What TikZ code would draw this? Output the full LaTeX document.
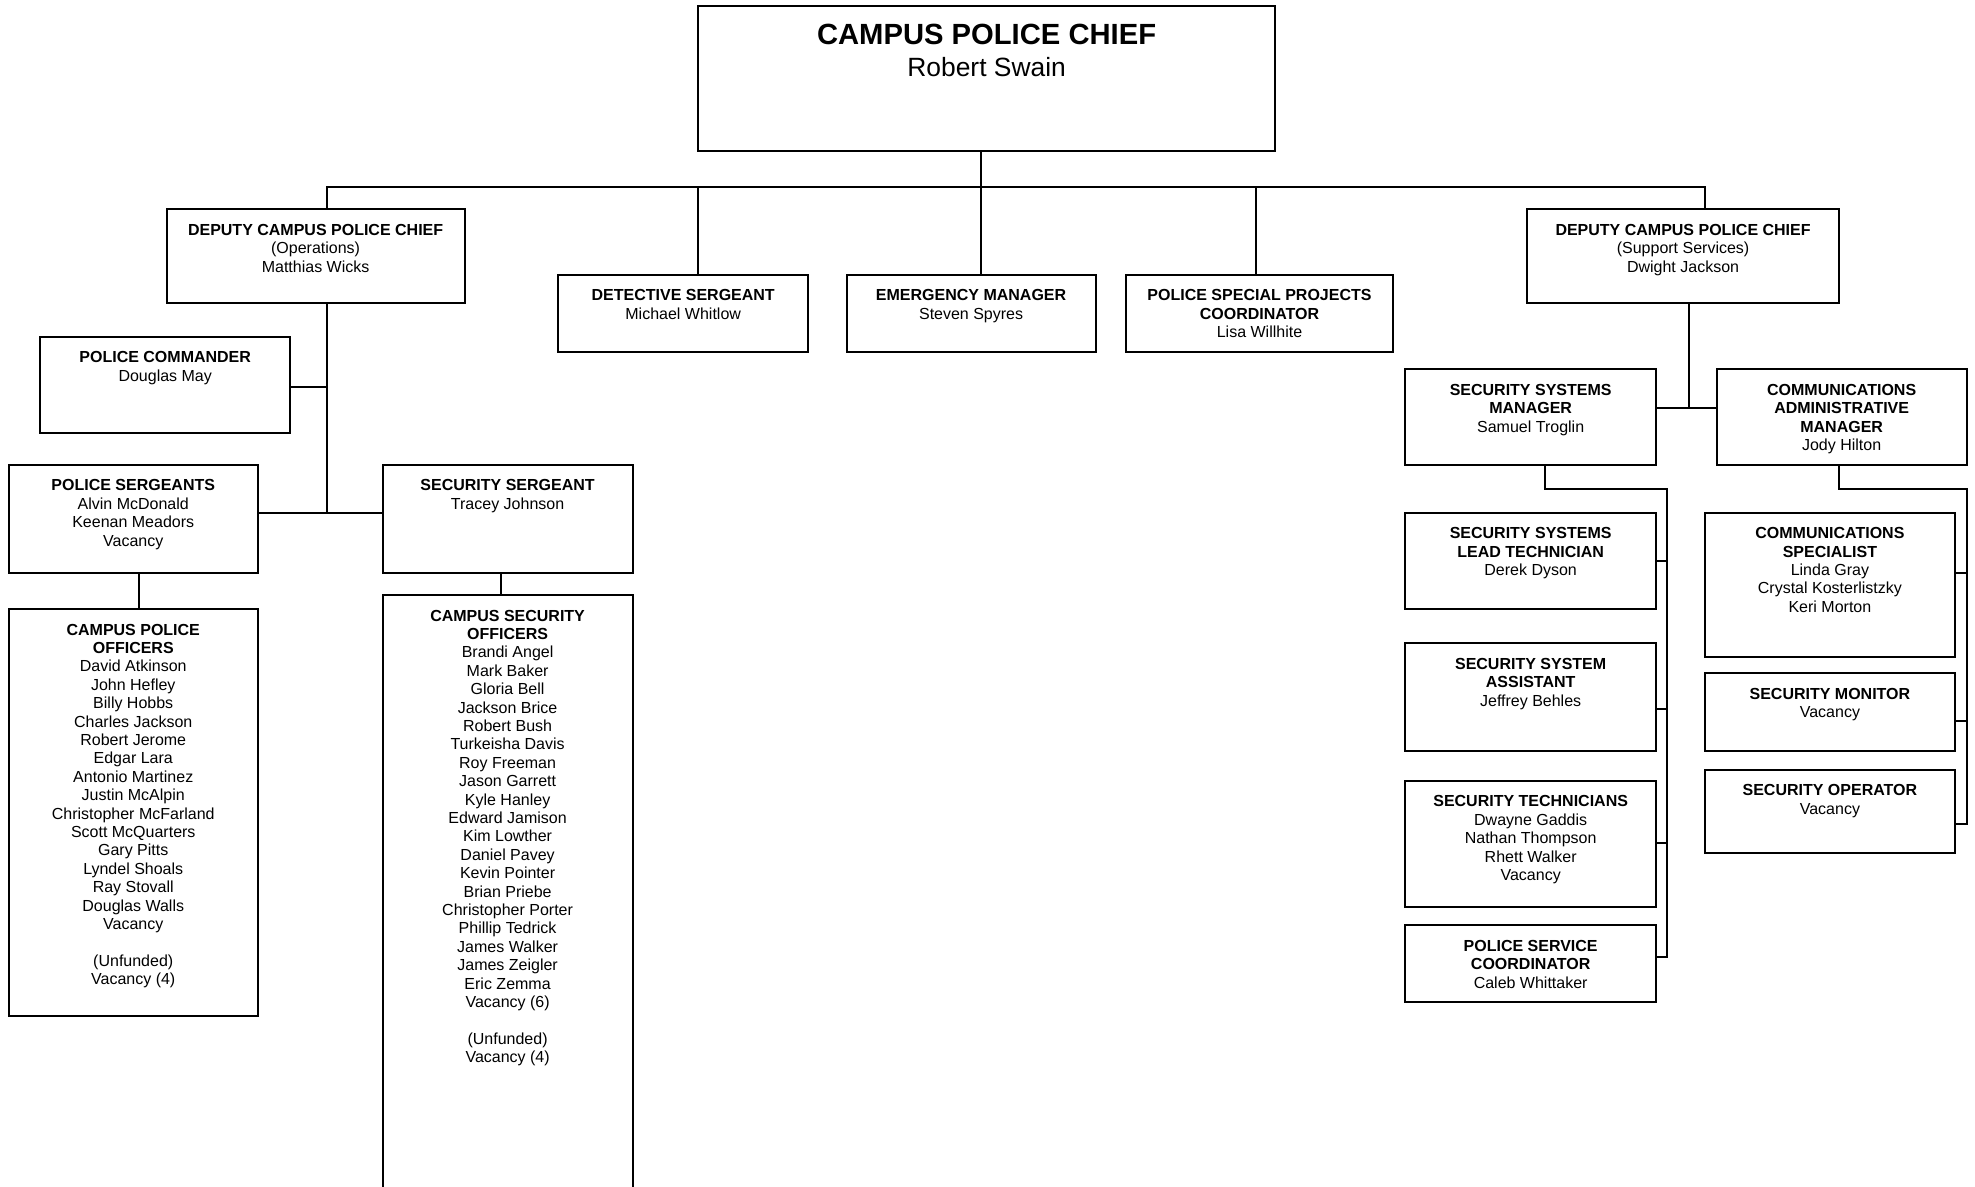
\documentclass[tikz,border=0pt]{standalone}
\usepackage{fontspec}
\setmainfont{Liberation Sans}
\usetikzlibrary{fit}
\begin{document}
\begin{tikzpicture}[x=0.5pt,y=-0.5pt,
  box/.style={draw, line width=1pt, inner sep=0pt, outer sep=0pt},
  txt/.style={anchor=north, yshift=-7.2pt, inner sep=0pt, align=center,
    font=\fontsize{8}{9.2}\selectfont, execute at begin node=\strut},
  ln/.style={line width=1pt}]
\fill[white] (0,0) rectangle (1975,1187);
\clip (0,0) rectangle (1975,1187);
% boxes
\node[box, fit={(698.4,6)(1274.8,150.7)}] (chief) {};
\node[box, fit={(166.5,209.3)(464.7,303.2)}] (depops) {};
\node[box, fit={(558.4,275)(808,351.7)}] (det) {};
\node[box, fit={(846.5,275)(1095.7,351.7)}] (emer) {};
\node[box, fit={(1126,275)(1393,351.7)}] (spec) {};
\node[box, fit={(1526.9,209.3)(1839.2,303.3)}] (depsup) {};
\node[box, fit={(40.2,336.8)(290.2,433.2)}] (polcom) {};
\node[box, fit={(8.5,465)(258,573.2)}] (polsgt) {};
\node[box, fit={(382.6,465)(632.6,573.2)}] (secsgt) {};
\node[box, fit={(8.5,609.2)(258,1016)}] (cpo) {};
\node[box, fit={(382.6,595.2)(632.6,1200)}] (cso) {};
\node[box, fit={(1405.4,369.3)(1655.9,465.3)}] (ssm) {};
\node[box, fit={(1716.6,369.3)(1966.7,465.3)}] (cam) {};
\node[box, fit={(1405.4,512.7)(1655.9,609)}] (sslt) {};
\node[box, fit={(1405.4,643.3)(1655.9,751)}] (ssa) {};
\node[box, fit={(1405.4,781)(1655.9,906.7)}] (sectech) {};
\node[box, fit={(1405.4,925.3)(1655.9,1001.7)}] (psc) {};
\node[box, fit={(1705.2,512.7)(1954.6,657.3)}] (comspec) {};
\node[box, fit={(1705.2,673.3)(1954.6,751)}] (secmon) {};
\node[box, fit={(1705.2,770)(1954.6,853.3)}] (secop) {};
% texts
\node[anchor=base, inner sep=0pt, yshift=-19.5pt, font=\fontsize{14.6}{17}\selectfont\bfseries] (chieft) at (chief.north) {CAMPUS POLICE CHIEF};
\node[anchor=base, inner sep=0pt, yshift=-35.3pt, font=\fontsize{13.2}{15}\selectfont] (chiefn) at (chief.north) {Robert Swain};
\node[txt] (depopst) at (depops.north) {\textbf{DEPUTY CAMPUS POLICE CHIEF}\\(Operations)\\Matthias Wicks};
\node[txt] (dett) at (det.north) {\textbf{DETECTIVE SERGEANT}\\Michael Whitlow};
\node[txt] (emert) at (emer.north) {\textbf{EMERGENCY MANAGER}\\Steven Spyres};
\node[txt] (spect) at (spec.north) {\textbf{POLICE SPECIAL PROJECTS}\\\textbf{COORDINATOR}\\Lisa Willhite};
\node[txt] (depsupt) at (depsup.north) {\textbf{DEPUTY CAMPUS POLICE CHIEF}\\(Support Services)\\Dwight Jackson};
\node[txt] (polcomt) at (polcom.north) {\textbf{POLICE COMMANDER}\\Douglas May};
\node[txt] (polsgtt) at (polsgt.north) {\textbf{POLICE SERGEANTS}\\Alvin McDonald\\Keenan Meadors\\Vacancy};
\node[txt] (secsgtt) at (secsgt.north) {\textbf{SECURITY SERGEANT}\\Tracey Johnson};
\node[txt] (cpot) at (cpo.north) {\textbf{CAMPUS POLICE}\\\textbf{OFFICERS}\\David Atkinson\\John Hefley\\Billy Hobbs\\Charles Jackson\\Robert Jerome\\Edgar Lara\\Antonio Martinez\\Justin McAlpin\\Christopher McFarland\\Scott McQuarters\\Gary Pitts\\Lyndel Shoals\\Ray Stovall\\Douglas Walls\\Vacancy\\[9.2pt](Unfunded)\\Vacancy (4)};
\node[txt] (csot) at (cso.north) {\textbf{CAMPUS SECURITY}\\\textbf{OFFICERS}\\Brandi Angel\\Mark Baker\\Gloria Bell\\Jackson Brice\\Robert Bush\\Turkeisha Davis\\Roy Freeman\\Jason Garrett\\Kyle Hanley\\Edward Jamison\\Kim Lowther\\Daniel Pavey\\Kevin Pointer\\Brian Priebe\\Christopher Porter\\Phillip Tedrick\\James Walker\\James Zeigler\\Eric Zemma\\Vacancy (6)\\[9.2pt](Unfunded)\\Vacancy (4)};
\node[txt] (ssmt) at (ssm.north) {\textbf{SECURITY SYSTEMS}\\\textbf{MANAGER}\\Samuel Troglin};
\node[txt] (camt) at (cam.north) {\textbf{COMMUNICATIONS}\\\textbf{ADMINISTRATIVE}\\\textbf{MANAGER}\\Jody Hilton};
\node[txt] (ssltt) at (sslt.north) {\textbf{SECURITY SYSTEMS}\\\textbf{LEAD TECHNICIAN}\\Derek Dyson};
\node[txt] (ssat) at (ssa.north) {\textbf{SECURITY SYSTEM}\\\textbf{ASSISTANT}\\Jeffrey Behles};
\node[txt] (sectecht) at (sectech.north) {\textbf{SECURITY TECHNICIANS}\\Dwayne Gaddis\\Nathan Thompson\\Rhett Walker\\Vacancy};
\node[txt] (psct) at (psc.north) {\textbf{POLICE SERVICE}\\\textbf{COORDINATOR}\\Caleb Whittaker};
\node[txt] (comspect) at (comspec.north) {\textbf{COMMUNICATIONS}\\\textbf{SPECIALIST}\\Linda Gray\\Crystal Kosterlistzky\\Keri Morton};
\node[txt] (secmont) at (secmon.north) {\textbf{SECURITY MONITOR}\\Vacancy};
\node[txt] (secopt) at (secop.north) {\textbf{SECURITY OPERATOR}\\Vacancy};
% junction coordinates
\coordinate (bj) at (980.9,187.3);
\coordinate (bl) at (326.8,187.3);
\coordinate (br) at (1704.9,187.3);
\coordinate (bs) at (1256.4,187.3);
\coordinate (oj) at (326.8,513.2);
\coordinate (oc) at (326.8,386.8);
\coordinate (px) at (139.3,590);
\coordinate (sx) at (500.9,585);
\coordinate (sj) at (1689.3,407.7);
\coordinate (ta) at (1544.7,489.3);
\coordinate (tb) at (1667.3,489.3);
\coordinate (t1) at (1667.3,561);
\coordinate (t2) at (1667.3,709.3);
\coordinate (t3) at (1667.3,842.7);
\coordinate (t4) at (1667.3,957.3);
\coordinate (ua) at (1838.8,489.3);
\coordinate (ub) at (1966.7,489.3);
\coordinate (u1) at (1966.7,573.3);
\coordinate (u2) at (1966.7,721);
\coordinate (u3) at (1966.7,824.3);
% connectors
\draw[ln] (chief.south -| bj) -- (bj);
\draw[ln] (depops.north -| bl) -- (bl) -- (br) -- (depsup.north -| br);
\draw[ln] (det.north -| chief.west) -- (chief.west |- bl);
\draw[ln] (emer.north -| bj) -- (bj);
\draw[ln] (spec.north -| bs) -- (bs);
\draw[ln] (depops.south -| oj) -- (oj);
\draw[ln] (polcom.east |- oc) -- (oc);
\draw[ln] (polsgt.east |- oj) -- (secsgt.west |- oj);
\draw[ln] (polsgt.south -| px) -- (cpo.north -| px);
\draw[ln] (secsgt.south -| sx) -- (cso.north -| sx);
\draw[ln] (depsup.south -| sj) -- (sj);
\draw[ln] (ssm.east |- sj) -- (cam.west |- sj);
\draw[ln] (ssm.south -| ta) -- (ta) -- (tb) -- (t4) -- (psc.east |- t4);
\draw[ln] (sslt.east |- t1) -- (t1);
\draw[ln] (ssa.east |- t2) -- (t2);
\draw[ln] (sectech.east |- t3) -- (t3);
\draw[ln] (cam.south -| ua) -- (ua) -- (ub) -- (u3) -- (secop.east |- u3);
\draw[ln] (comspec.east |- u1) -- (u1);
\draw[ln] (secmon.east |- u2) -- (u2);
\end{tikzpicture}
\end{document}
